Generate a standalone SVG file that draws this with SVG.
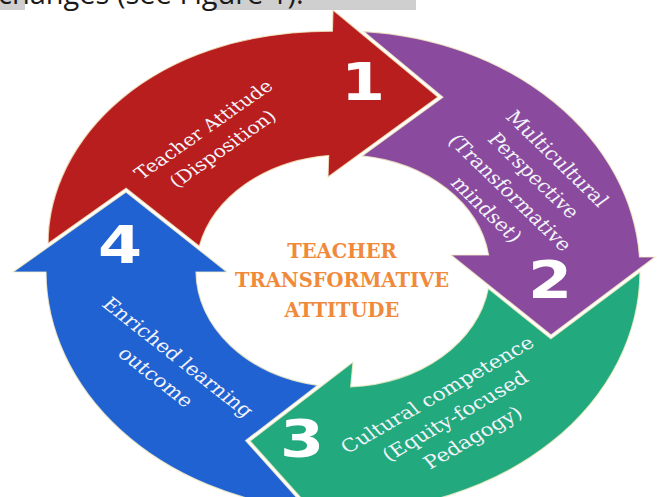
<svg xmlns="http://www.w3.org/2000/svg" width="657" height="497" viewBox="0 0 657 497">
  <defs>
    <style>
      .arrow{stroke:#f4ecc6;stroke-width:1.2;stroke-opacity:.8;stroke-linejoin:miter}
      .red{fill:#b91e1f}
      .purple{fill:#8a4b9e}
      .green{fill:#22aa7e}
      .blue{fill:#2062d2}
      .num{font-family:"DejaVu Sans",sans-serif;font-weight:bold;font-size:52px;fill:#ffffff;text-anchor:middle}
      .lbl{font-family:"DejaVu Serif",serif;font-size:18px;fill:#f3f3fb;text-anchor:middle}
      .title{font-family:"DejaVu Serif",serif;font-weight:bold;font-size:19.5px;fill:#f08a3a;text-anchor:middle}
      .caption{font-family:"Open Sans",sans-serif;font-size:29px;fill:#1a1a1a}
    </style>
  </defs>

  <rect width="657" height="497" fill="#ffffff"/>

  <!-- stage 1 : red arc, head pointing right at the top -->
  <g id="stage-1">
    <path class="arrow red" d="M 48.1 243.5 L 126.1 188.3 L 199.3 246.2 A 147 116 0 0 1 328.65 155.55 L 328 177 L 438 97 L 333 10 L 332.4 31.15 C 150 31 48 140 48.1 243.5 Z"/>
    <text class="num" transform="translate(363 100) scale(1.22 1)">1</text>
    <g transform="translate(213 139) scale(1.2 1) rotate(-40)">
      <text class="lbl" x="0" y="-6.5" style="font-size:17px">Teacher Attitude</text>
      <text class="lbl" x="0" y="18.5" style="font-size:17px">(Disposition)</text>
    </g>
  </g>

  <!-- stage 2 : purple arc, head pointing down on the right -->
  <g id="stage-2">
    <path class="arrow purple" d="M 363.8 31.6 L 442.9 97.2 L 362 155.9 A 147 116 0 0 1 488.6 255 L 451 255 L 551 335 L 655 257 L 639.5 257 A 297 240 0 0 0 363.8 31.6 Z"/>
    <text class="num" transform="translate(550 298) scale(1.22 1)">2</text>
    <g transform="translate(522 184) scale(1.2 1) rotate(49.2)">
      <text class="lbl" x="0" y="-32.7">Multicultural</text>
      <text class="lbl" x="0" y="-6.7">Perspective</text>
      <text class="lbl" x="0" y="19.3">(Transformative</text>
      <text class="lbl" x="0" y="45.3">mindset)</text>
    </g>
  </g>

  <!-- stage 3 : green arc, head pointing left at the bottom -->
  <g id="stage-3">
    <path class="arrow green" d="M 488.3 288.6 L 550.9 338.8 L 640 272 A 297 240 0 0 1 339.45 511 L 337 538 L 250 441 L 353 362 L 350.7 386.85 A 147 116 0 0 0 488.3 288.6 Z"/>
    <text class="num" transform="translate(302 457) scale(1.22 1)">3</text>
    <g transform="translate(455 416) scale(1.2 1) rotate(-34.7)">
      <text class="lbl" x="0" y="-19.7">Cultural competence</text>
      <text class="lbl" x="0" y="6.3">(Equity-focused</text>
      <text class="lbl" x="0" y="32.3">Pedagogy)</text>
    </g>
  </g>

  <!-- stage 4 : blue arc, head pointing up on the left -->
  <g id="stage-4">
    <path class="arrow blue" d="M 317.7 385.3 L 245.6 440.6 L 307.2 509.2 A 297 240 0 0 1 46 272 L 13 272 L 126 192 L 227 272 L 196 272 A 147 116 0 0 0 317.7 385.3 Z"/>
    <text class="num" transform="translate(120 263) scale(1.22 1)">4</text>
    <g transform="translate(167 367) scale(1.2 1) rotate(43.2)">
      <text class="lbl" x="0" y="-7.2">Enriched learning</text>
      <text class="lbl" x="0" y="19.8">outcome</text>
    </g>
  </g>

  <!-- centre title -->
  <g id="centre-title">
    <text class="title" x="342" y="258">TEACHER</text>
    <text class="title" x="342" y="287">TRANSFORMATIVE</text>
    <text class="title" x="342" y="317">ATTITUDE</text>
  </g>

  <!-- caption strip along the top edge -->
  <g id="caption">
    <rect x="0" y="0" width="25" height="10" fill="#cfcfcf"/>
    <rect x="213" y="0" width="203" height="10" fill="#cfcfcf"/>
    <text class="caption" x="-2" y="3.5">changes (see Figure 1).</text>
  </g>
</svg>
